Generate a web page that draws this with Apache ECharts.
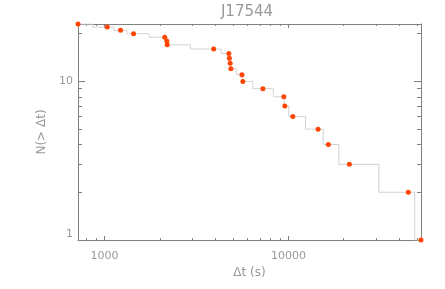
<!DOCTYPE html>
<html><head><meta charset="utf-8">
<script src="https://cdn.jsdelivr.net/npm/echarts@6/dist/echarts.min.js"></script>
<style>html,body{margin:0;padding:0;background:#fff}#c{width:445px;height:289px}</style>
</head><body><div id="c"></div>
<script>
// ---- data ----
const dt = [717, 1034, 1222, 1437, 2125, 2180, 2191, 3923, 4744, 4774, 4822, 4864, 5588, 5652, 7267, 9441, 9560, 10566, 14503, 16500, 21454, 44898, 52630];
const nGreater = [23, 22, 21, 20, 19, 18, 17, 16, 15, 14, 13, 12, 11, 10, 9, 8, 7, 6, 5, 4, 3, 2, 1];
const xTickLabels = [1000, 10000];
const yTickLabels = [1, 10];
const xMinorTicks = [800, 900, 2000, 3000, 4000, 5000, 6000, 7000, 8000, 9000, 20000, 30000, 40000, 50000];
const yMinorTicks = [2, 3, 4, 5, 6, 7, 8, 9, 20];
const titleText = 'J17544';
const xName = 'Δt (s)';
const yName = 'N(> Δt)';

// ---- styling ----
const AX = '#808080', TX = '#999999', FONT = 'DejaVu Sans';
const xMin = Math.min(...dt), xMax = Math.max(...dt);
const yMin = Math.min(...nGreater), yMax = Math.max(...nGreater);

function isTick(v, list) { return list.some(t => Math.abs(t - v) / t < 1e-6); }

function mainAxis(isX, position, withLabels, len) {
  const list = isX ? xTickLabels : yTickLabels;
  const a = {
    type: 'log', logBase: 10, position,
    min: isX ? xMin : yMin, max: isX ? xMax : yMax,
    axisLine: { show: true, onZero: false, lineStyle: { color: AX, width: 1 } },
    axisTick: { show: true, inside: true, length: len, lineStyle: { color: AX, width: 1 } },
    axisLabel: {
      show: withLabels, color: TX, fontFamily: FONT, fontSize: 11,
      margin: isX ? 11 : 5,
      formatter: v => isTick(v, list) ? String(Math.round(v)) : ''
    },
    splitLine: { show: false }, minorTick: { show: false }
  };
  if (withLabels && !isX) a.axisLabel.verticalAlignMinLabel = 'bottom';
  return a;
}
function minorAxis(isX, position, len) {
  const lo = isX ? xMin : yMin, hi = isX ? xMax : yMax;
  const list = isX ? xMinorTicks : yMinorTicks;
  return {
    type: 'value', position,
    min: Math.log10(lo), max: Math.log10(hi),
    axisLine: { show: false, onZero: false },
    axisTick: { show: true, inside: true, length: len, customValues: list.map(v => Math.log10(v)), lineStyle: { color: AX, width: 1 } },
    axisLabel: { show: false },
    splitLine: { show: false }
  };
}

const xBottom = mainAxis(true, 'bottom', true, 4);
xBottom.name = xName; xBottom.nameLocation = 'middle'; xBottom.nameGap = 26;
xBottom.nameTextStyle = { color: TX, fontFamily: FONT, fontSize: 12 };
const yLeft = mainAxis(false, 'left', true, 7);
yLeft.name = yName; yLeft.nameLocation = 'middle'; yLeft.nameGap = 30;
yLeft.nameTextStyle = { color: TX, fontFamily: FONT, fontSize: 12 };

const chart = echarts.init(document.getElementById('c'), null, { renderer: 'canvas' });
chart.setOption({
  animation: false,
  backgroundColor: '#ffffff',
  title: {
    text: titleText, left: 242, top: 0, textAlign: 'center',
    textStyle: { fontSize: 15, fontWeight: 'normal', color: TX, fontFamily: FONT }
  },
  grid: { left: 78, right: 24, top: 24, bottom: 49, containLabel: false, outerBoundsMode: 'none' },
  xAxis: [
    xBottom,
    mainAxis(true, 'top', false, 4),
    minorAxis(true, 'bottom', 2),
    minorAxis(true, 'top', 2)
  ],
  yAxis: [
    yLeft,
    mainAxis(false, 'right', false, 7),
    minorAxis(false, 'left', 4),
    minorAxis(false, 'right', 4)
  ],
  series: [{
    type: 'line', xAxisIndex: 0, yAxisIndex: 0,
    data: dt.map((t, i) => [t, nGreater[i]]),
    step: 'middle',
    symbol: 'circle', symbolSize: 5, showSymbol: true, showAllSymbol: true,
    itemStyle: { color: '#ff4500' },
    lineStyle: { color: '#d2d2d2', width: 1 },
    clip: true
  }]
});
</script>
</body></html>
